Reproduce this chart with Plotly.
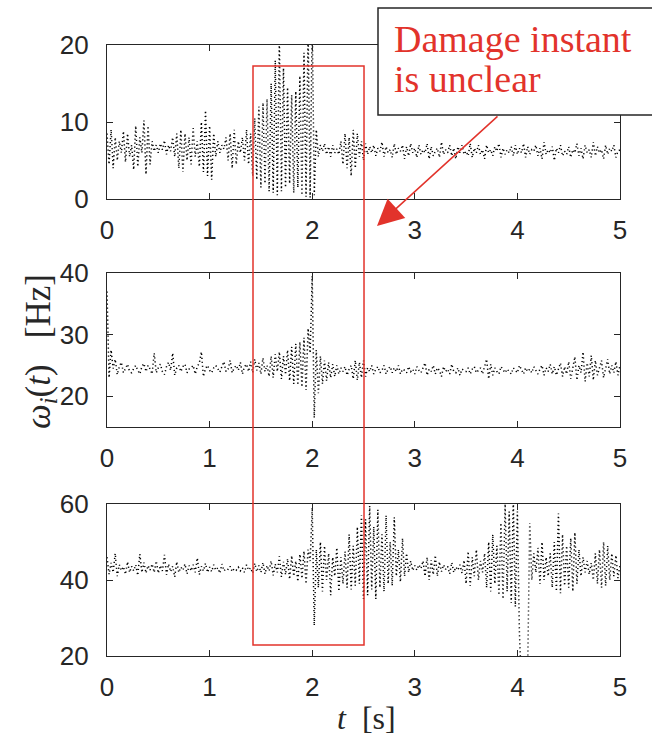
import plotly.graph_objects as go

# Time base: 0 .. 5 s, sampled every 0.02 s
t = [round(i * 0.02, 2) for i in range(251)]

# Instantaneous frequency of component 1 [Hz]
w1 = [
    8.5, 4.5, 9.0, 4.0, 8.0, 5.0, 7.5, 6.0, 8.8, 4.8, 8.5, 5.5, 7.0, 3.8, 9.5, 4.2, 8.0, 6.0, 10.2, 3.2, 9.5, 4.5, 7.5, 6.2, 7.0,
    6.0, 7.2, 6.4, 7.6, 5.8, 7.0, 6.2, 8.0, 5.5, 8.5, 4.0, 9.0, 3.5, 8.5, 5.0, 8.0, 4.5, 9.2, 5.5, 7.5, 4.2, 10.0, 3.5, 11.5, 3.0,
    9.5, 2.5, 8.5, 5.5, 7.5, 6.0, 7.0, 6.5, 8.0, 5.0, 8.5, 4.0, 9.0, 4.5, 7.5, 6.0, 8.0, 5.0, 9.0, 4.5, 8.5, 3.0, 10.5, 2.5, 12.0,
    1.5, 12.5, 2.0, 13.0, 1.0, 15.0, 0.8, 18.0, 0.5, 21.0, 1.0, 17.0, 1.5, 14.5, 2.0, 13.5, 0.8, 14.0, 1.5, 16.0, 0.5, 19.0, 0.3, 22.0, 0.2,
    23.0, 0.5, 9.0, 5.5, 7.0, 6.2, 7.2, 5.8, 6.8, 5.5, 7.0, 6.0, 6.5, 5.8, 7.5, 4.5, 8.5, 4.0, 8.0, 3.0, 9.0, 4.0, 8.5, 5.5, 7.5,
    5.0, 7.2, 5.8, 6.8, 6.0, 7.0, 5.6, 6.6, 6.2, 7.4, 5.5, 6.8, 6.0, 6.4, 5.4, 7.2, 5.8, 6.6, 6.2, 7.0, 5.2, 6.8, 5.6, 7.2, 6.0,
    6.6, 5.4, 7.0, 5.8, 6.4, 6.0, 7.2, 5.2, 6.8, 5.6, 6.2, 6.6, 5.4, 7.4, 5.8, 6.4, 6.0, 7.0, 5.6, 6.6, 5.2, 6.8, 6.0, 7.0, 5.8,
    6.2, 5.6, 7.2, 5.4, 6.6, 6.0, 7.0, 5.8, 6.4, 5.2, 7.0, 6.0, 6.4, 5.6, 6.8, 6.2, 7.2, 5.4, 6.6, 5.8, 6.4, 6.0, 6.8, 5.6, 7.0,
    5.8, 6.6, 6.0, 7.2, 5.4, 6.8, 5.8, 6.4, 6.2, 7.0, 5.6, 6.6, 5.2, 7.4, 5.8, 6.4, 6.0, 6.8, 5.0, 6.6, 6.0, 7.0, 5.6, 6.2, 5.8,
    6.8, 5.4, 6.4, 6.0, 7.2, 5.6, 6.6, 5.2, 7.0, 6.0, 6.4, 5.4, 7.4, 5.6, 6.8, 6.0, 6.4, 5.2, 7.0, 5.8, 6.6, 6.2, 7.0, 5.4, 6.2,
    6.4,
]

# Instantaneous frequency of component 2 [Hz]
w2 = [
    37.0, 23.0, 27.5, 24.5, 26.0, 23.5, 24.8, 25.5, 23.8, 24.6, 25.2, 24.0, 23.8, 24.5, 25.0, 24.2, 23.6, 24.8, 25.3, 24.0, 25.0, 24.4, 23.6, 27.0, 23.8,
    24.6, 25.2, 24.0, 23.5, 24.8, 25.5, 24.2, 27.0, 23.4, 24.6, 25.0, 24.0, 24.8, 25.2, 23.8, 24.4, 24.6, 25.0, 23.6, 24.8, 25.4, 27.2, 23.2, 24.5, 25.0,
    24.2, 23.8, 24.6, 25.0, 24.4, 23.9, 24.8, 25.6, 24.0, 24.4, 25.8, 23.8, 24.6, 25.0, 24.2, 25.5, 23.6, 24.8, 25.2, 24.0, 25.6, 23.8, 26.0, 24.2, 25.4,
    23.6, 26.2, 24.0, 25.0, 23.2, 26.5, 23.0, 26.8, 24.0, 27.2, 22.8, 26.5, 23.5, 27.5, 22.5, 28.0, 22.0, 28.5, 21.8, 28.8, 21.5, 29.5, 21.0, 31.0, 27.0,
    39.5, 16.5, 27.5, 20.5, 26.5, 22.0, 25.8, 22.5, 25.5, 23.0, 25.2, 23.2, 25.0, 23.6, 24.6, 24.0, 24.8, 23.4, 24.4, 25.0, 22.8, 25.8, 22.6, 25.5, 23.0,
    25.8, 23.2, 24.6, 24.0, 25.0, 23.6, 24.4, 24.8, 23.8, 24.2, 25.0, 23.6, 24.4, 24.8, 23.8, 24.6, 24.0, 25.0, 23.6, 24.4, 24.2, 23.8, 24.8, 24.0, 24.4,
    23.6, 24.8, 24.2, 23.8, 24.6, 25.4, 23.4, 24.4, 24.0, 25.0, 23.6, 24.6, 24.2, 23.2, 24.8, 24.0, 24.4, 23.6, 25.2, 24.0, 23.8, 24.6, 23.4, 24.4, 24.2,
    24.0, 24.6, 23.6, 24.4, 24.8, 23.8, 24.2, 24.6, 23.6, 24.8, 26.0, 22.8, 25.2, 23.4, 24.6, 24.0, 23.6, 24.8, 24.2, 23.8, 24.4, 24.0, 23.6, 24.6, 24.2,
    23.8, 25.0, 24.2, 23.6, 24.6, 24.0, 24.4, 23.8, 24.8, 24.2, 23.6, 24.4, 25.0, 23.4, 24.6, 24.0, 25.2, 23.6, 24.8, 23.4, 24.6, 25.4, 23.2, 24.8, 23.6,
    25.6, 22.8, 24.8, 26.4, 22.6, 25.0, 23.8, 27.2, 22.4, 25.4, 23.2, 26.6, 22.6, 25.8, 23.4, 24.6, 25.8, 23.0, 24.4, 26.0, 23.6, 25.0, 23.8, 25.6, 23.4,
    25.0,
]

# Instantaneous frequency of component 3 [Hz]
w3 = [
    46.0, 41.5, 44.5, 42.0, 47.0, 41.0, 44.0, 42.5, 43.5, 41.5, 44.8, 42.0, 43.6, 42.4, 44.0, 41.2, 46.8, 42.0, 44.6, 41.8, 43.8, 42.6, 44.2, 42.0, 45.0,
    41.8, 43.8, 42.4, 46.6, 41.4, 44.2, 42.2, 43.6, 40.8, 44.8, 42.0, 43.4, 42.6, 44.2, 41.6, 43.8, 42.4, 44.0, 42.0, 45.8, 41.4, 43.6, 42.4, 44.4, 42.0,
    43.4, 42.2, 44.0, 42.6, 43.2, 41.8, 44.2, 42.4, 43.0, 42.8, 43.6, 42.2, 43.0, 42.6, 43.4, 42.4, 43.2, 42.0, 44.0, 42.6, 43.2, 41.8, 44.4, 42.2, 43.8,
    42.0, 44.6, 41.6, 43.8, 42.4, 45.0, 41.2, 44.2, 42.0, 46.2, 40.8, 44.8, 41.4, 45.6, 40.2, 46.4, 41.0, 45.0, 39.6, 46.8, 40.4, 47.6, 39.0, 48.0, 45.0,
    59.0, 28.0, 48.0, 38.0, 50.0, 37.0, 49.0, 40.0, 47.0, 36.0, 46.0, 41.0, 48.5, 37.0, 46.0, 39.0, 47.5, 38.0, 52.0, 37.5, 49.0, 38.5, 54.0, 39.0, 57.0,
    35.0, 56.0, 36.0, 59.5, 37.5, 54.0, 35.0, 58.5, 38.0, 52.0, 37.0, 57.0, 39.0, 50.0, 38.5, 56.5, 41.0, 48.0, 39.5, 51.0, 41.0, 47.0, 42.0, 45.0, 42.5,
    43.8, 42.6, 44.0, 43.0, 45.0, 41.0, 46.0, 40.0, 45.2, 41.4, 46.5, 41.0, 44.8, 42.2, 44.0, 42.8, 43.6, 41.6, 44.6, 42.0, 43.4, 42.6, 44.0, 41.8, 45.2,
    39.0, 47.5, 38.5, 46.0, 41.0, 48.0, 40.0, 45.0, 42.0, 47.0, 38.0, 50.0, 37.0, 52.0, 39.0, 49.0, 36.0, 55.0, 35.0, 60.0, 37.0, 58.0, 34.0, 61.0, 33.0,
    58.0, 26.0, 12.0, 6.0, 10.0, 16.0, 55.0, 40.0, 47.0, 42.0, 48.5, 39.0, 50.0, 40.0, 46.0, 41.0, 47.0, 38.0, 50.0, 37.0, 57.5, 36.5, 52.0, 38.5, 49.0,
    38.0, 51.0, 37.0, 52.5, 39.0, 48.0, 41.0, 46.0, 42.0, 45.0, 41.5, 44.5, 40.0, 47.0, 39.0, 48.0, 38.0, 50.0, 38.5, 49.0, 40.0, 47.0, 41.0, 46.5, 40.5,
    44.0,
]

series = [w1, w2, w3]
y_ranges = [[0, 20], [15, 40], [20, 60]]
y_ticks = [[0, 10, 20], [20, 30, 40], [20, 40, 60]]
x_ticks = [0, 1, 2, 3, 4, 5]
callout_lines = ["Damage instant", "is unclear"]

W, H = 652, 745
AX = "#262626"
RED = "#E2332B"
SANS = "Liberation Sans, Arial, sans-serif"
SERIF = "Liberation Serif, Times New Roman, serif"

def px_x(p):
    return p / W

def px_y(p):
    return 1 - p / H

x_dom = [px_x(107), px_x(620)]
y_doms = [
    [px_y(199), px_y(45)],
    [px_y(427), px_y(273)],
    [px_y(656), px_y(504)],
]

fig = go.Figure()
layout = dict(
    width=W, height=H,
    margin=dict(l=0, r=0, t=0, b=0, autoexpand=False),
    paper_bgcolor="white", plot_bgcolor="white",
    showlegend=False,
    font=dict(family=SANS, color=AX),
)

axis_common = dict(
    showline=True, linecolor=AX, linewidth=1.3, mirror="ticks",
    ticks="inside", ticklen=6, tickwidth=1.3, tickcolor=AX,
    showgrid=False, zeroline=False, automargin=False,
    tickfont=dict(size=26, color=AX, family=SANS),
)

for k, (ys, yr, yt, yd) in enumerate(zip(series, y_ranges, y_ticks, y_doms)):
    n = "" if k == 0 else str(k + 1)
    fig.add_trace(go.Scatter(
        x=t, y=ys, mode="lines",
        line=dict(color="black", width=1.5, dash="1.2px,2.8px"),
        xaxis="x" + n, yaxis="y" + n, hoverinfo="skip",
    ))
    layout["xaxis" + n] = dict(
        axis_common, domain=x_dom, range=[0, 5], tickvals=x_ticks,
        anchor="y" + n, ticklabelstandoff=8,
    )
    layout["yaxis" + n] = dict(
        axis_common, domain=yd, range=yr, tickvals=yt,
        anchor="x" + n, ticklabelstandoff=12,
    )

fig.update_layout(**layout)

# Highlighted time window spanning all three panels
fig.add_shape(
    type="rect", xref="x3", yref="paper",
    x0=1.423, x1=2.505, y0=px_y(645), y1=px_y(66),
    line=dict(color=RED, width=1.5), fillcolor="rgba(0,0,0,0)", layer="above",
)

# Callout box
fig.add_shape(
    type="rect", xref="paper", yref="paper",
    x0=px_x(378), x1=px_x(660), y0=px_y(115), y1=px_y(8),
    line=dict(color=AX, width=1.5), fillcolor="white", layer="above",
)

for line_text, top in zip(callout_lines, [16, 56]):
    fig.add_annotation(
        xref="paper", yref="paper", x=px_x(392), y=px_y(top),
        xanchor="left", yanchor="top", align="left",
        text=line_text, showarrow=False,
        font=dict(family=SERIF, size=38, color=RED),
    )

# Arrow from the callout to the time window
fig.add_annotation(
    xref="paper", yref="paper", x=px_x(377), y=px_y(226),
    ax=122, ay=-111, axref="pixel", ayref="pixel",
    text="", showarrow=True, arrowhead=2, arrowsize=3.5, arrowwidth=1.5,
    arrowcolor=RED,
)

# Axis titles
fig.add_annotation(
    xref="paper", yref="paper", x=px_x(41), y=px_y(352),
    xanchor="center", yanchor="middle",
    text="<i>ω<sub>i</sub></i>(<i>t</i>)&nbsp;&nbsp;&nbsp;[Hz]", textangle=-90, showarrow=False,
    font=dict(family=SERIF, size=35, color=AX),
)
fig.add_annotation(
    xref="paper", yref="paper", x=px_x(366), y=px_y(718),
    xanchor="center", yanchor="middle",
    text="<i>t</i>  [s]", showarrow=False,
    font=dict(family=SERIF, size=32, color=AX),
)

fig.write_html("out.html")
